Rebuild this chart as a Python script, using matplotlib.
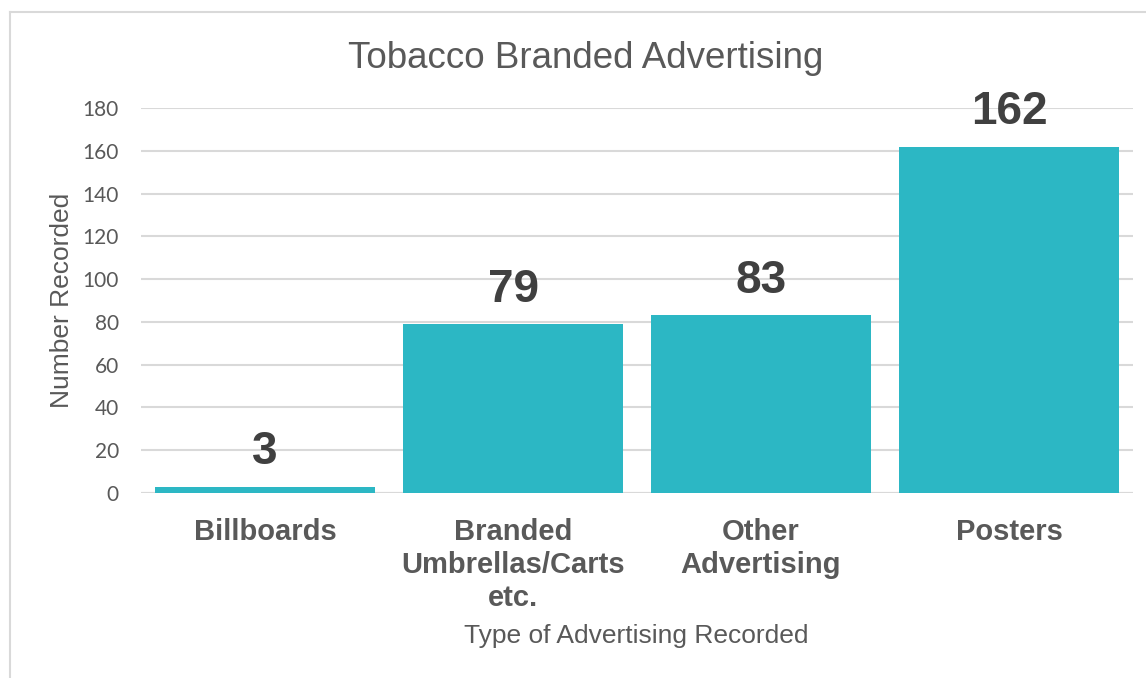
import matplotlib
matplotlib.use('Agg')
from matplotlib import pyplot as plt
from matplotlib.lines import Line2D

# chart data
categories = ['Billboards', 'Branded\nUmbrellas/Carts\netc.', 'Other\nAdvertising', 'Posters']
counts = [3, 79, 83, 162]
y_ticks = [0, 20, 40, 60, 80, 100, 120, 140, 160, 180]

bar_color = '#2CB7C4'
grid_color = '#D9D9D9'
text_gray = '#595959'
label_dark = '#404040'

W, H = 1146, 678
fig = plt.figure(figsize=(W / 100, H / 100), dpi=100)
ax = fig.add_axes([141 / W, 1 - 493 / H, (1133 - 141) / W, (493 - 108) / H])

x = list(range(len(categories)))
bars = ax.bar(x, counts, width=0.887, color=bar_color, zorder=3)

ax.set_xlim(-0.5, len(categories) - 0.5)
ax.set_ylim(0, 180)
ax.set_yticks(y_ticks)
ax.yaxis.grid(True, color=grid_color, linewidth=1.5, zorder=0)
ax.set_axisbelow(True)
for s in ax.spines.values():
    s.set_visible(False)
ax.tick_params(axis='both', length=0)
ax.tick_params(axis='y', pad=16, labelsize=15, labelcolor=text_gray)
for lbl in ax.get_yticklabels():
    lbl.set_fontfamily('Lato')

ax.set_xticks(x)
ax.set_xticklabels(categories, fontsize=21, fontweight='bold', color=text_gray,
                   family='Liberation Sans', linespacing=1.22)
ax.tick_params(axis='x', pad=18)

# bottom axis line
ax.axhline(0, color=grid_color, linewidth=1.5, zorder=2)

# value labels
for b, v in zip(bars, counts):
    ax.annotate(str(v), (b.get_x() + b.get_width() / 2, v), xytext=(0, 9),
                textcoords='offset points', ha='center', va='bottom',
                fontsize=33, fontweight='bold', color=label_dark,
                family='Liberation Sans')

fig.text(586 / W, 1 - 58 / H, 'Tobacco Branded Advertising', ha='center', va='center',
         fontsize=26.5, color=text_gray, family='Liberation Sans')
fig.text(636 / W, 1 - 636 / H, 'Type of Advertising Recorded', ha='center', va='center',
         fontsize=19, color=text_gray, family='Liberation Sans')
fig.text(62 / W, 1 - 300 / H, 'Number Recorded', ha='center', va='center', rotation=90,
         fontsize=19, color=text_gray, family='Liberation Sans')

# chart border (left and top edges visible)
fig.add_artist(Line2D([10 / W, 10 / W], [0, 1 - 12 / H], color=grid_color, linewidth=1.5))
fig.add_artist(Line2D([10 / W, 1], [1 - 12 / H, 1 - 12 / H], color=grid_color, linewidth=1.5))

fig.savefig('out.png', dpi=100, facecolor='white')
